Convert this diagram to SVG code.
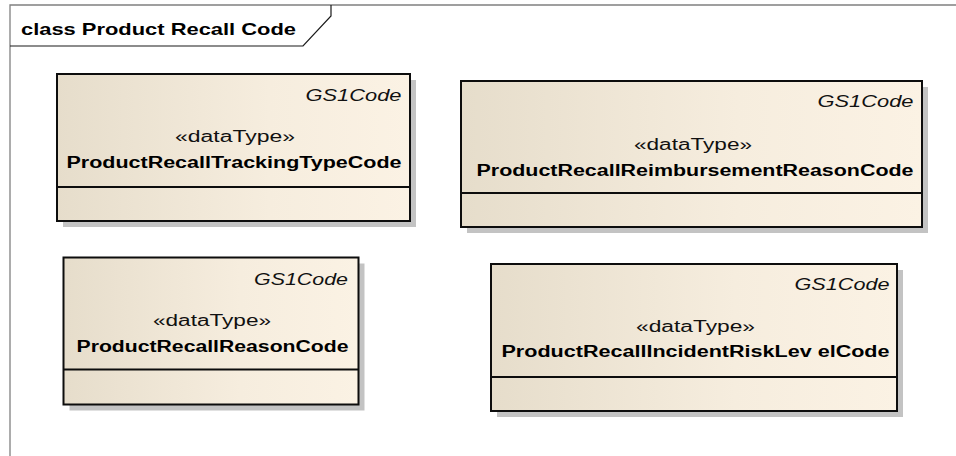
<svg xmlns="http://www.w3.org/2000/svg" width="956" height="456" viewBox="0 0 956 456">
  <style>
    .frame { fill: none; stroke: #808080; stroke-width: 1.3; }
    .tab { fill: none; stroke: #1a1a1a; stroke-width: 1.2; }
    .title { font-family: "Liberation Sans", Arial, sans-serif; font-size: 17px; font-weight: bold; fill: #000; }
    .shadow { fill: #C3C3C3; }
    .box { fill: url(#beige); stroke: #0d0d0d; stroke-width: 2; }
    .div { stroke: #0d0d0d; stroke-width: 2; }
    .gs { font-family: "Liberation Sans", Arial, sans-serif; font-size: 16px; font-style: italic; fill: #111; text-anchor: end; }
    .st { font-family: "Liberation Sans", Arial, sans-serif; font-size: 16px; fill: #111; text-anchor: middle; }
    .nm { font-family: "Liberation Sans", Arial, sans-serif; font-size: 16px; font-weight: bold; fill: #000; text-anchor: middle; }
  </style>
  <defs>
    <linearGradient id="beige" x1="0" y1="0" x2="1" y2="0">
      <stop offset="0" stop-color="#E6DDCB"/>
      <stop offset="0.6" stop-color="#F6EDDE"/>
      <stop offset="1" stop-color="#FBF2E4"/>
    </linearGradient>
  </defs>
  <rect x="0" y="0" width="956" height="456" fill="#FFFFFF"/>
  <g id="frame">
    <path class="frame" d="M10,456 V5 H956"/>
    <path class="tab" d="M10,46 H303 L331,16 V5"/>
    <text class="title" x="21" y="35" textLength="275" lengthAdjust="spacingAndGlyphs">class Product Recall Code</text>
  </g>
  <g id="connectors"></g>
  <g id="ProductRecallTrackingTypeCode">
    <rect class="shadow" x="63" y="80" width="353" height="147"/>
    <rect class="box" x="57" y="74" width="353" height="147"/>
    <line class="div" x1="57" y1="187" x2="410" y2="187"/>
    <text class="gs" x="401.5" y="100.5" textLength="96" lengthAdjust="spacingAndGlyphs">GS1Code</text>
    <text class="st" x="235" y="142" textLength="120" lengthAdjust="spacingAndGlyphs">«dataType»</text>
    <text class="nm" x="234" y="168" textLength="335" lengthAdjust="spacingAndGlyphs">ProductRecallTrackingTypeCode</text>
  </g>
  <g id="ProductRecallReimbursementReasonCode">
    <rect class="shadow" x="467" y="87" width="461" height="146"/>
    <rect class="box" x="461" y="81" width="461" height="146"/>
    <line class="div" x1="461" y1="193" x2="922" y2="193"/>
    <text class="gs" x="913.5" y="106.5" textLength="96" lengthAdjust="spacingAndGlyphs">GS1Code</text>
    <text class="st" x="693" y="150" textLength="118" lengthAdjust="spacingAndGlyphs">«dataType»</text>
    <text class="nm" x="695" y="176" textLength="437" lengthAdjust="spacingAndGlyphs">ProductRecallReimbursementReasonCode</text>
  </g>
  <g id="ProductRecallReasonCode">
    <rect class="shadow" x="69.5" y="263.5" width="295" height="147"/>
    <rect class="box" x="63.5" y="257.5" width="295" height="147"/>
    <line class="div" x1="63.5" y1="369.5" x2="358.5" y2="369.5"/>
    <text class="gs" x="348" y="284.5" textLength="94" lengthAdjust="spacingAndGlyphs">GS1Code</text>
    <text class="st" x="212" y="326" textLength="118" lengthAdjust="spacingAndGlyphs">«dataType»</text>
    <text class="nm" x="212.5" y="351.5" textLength="272" lengthAdjust="spacingAndGlyphs">ProductRecallReasonCode</text>
  </g>
  <g id="ProductRecallIncidentRiskLevelCode">
    <rect class="shadow" x="497" y="270" width="406" height="147"/>
    <rect class="box" x="491" y="264" width="406" height="147"/>
    <line class="div" x1="491" y1="377" x2="897" y2="377"/>
    <text class="gs" x="889.5" y="290" textLength="95" lengthAdjust="spacingAndGlyphs">GS1Code</text>
    <text class="st" x="695.5" y="331.5" textLength="119" lengthAdjust="spacingAndGlyphs">«dataType»</text>
    <text class="nm" x="695.5" y="356.5" textLength="388" lengthAdjust="spacingAndGlyphs">ProductRecallIncidentRiskLev elCode</text>
  </g>
</svg>
